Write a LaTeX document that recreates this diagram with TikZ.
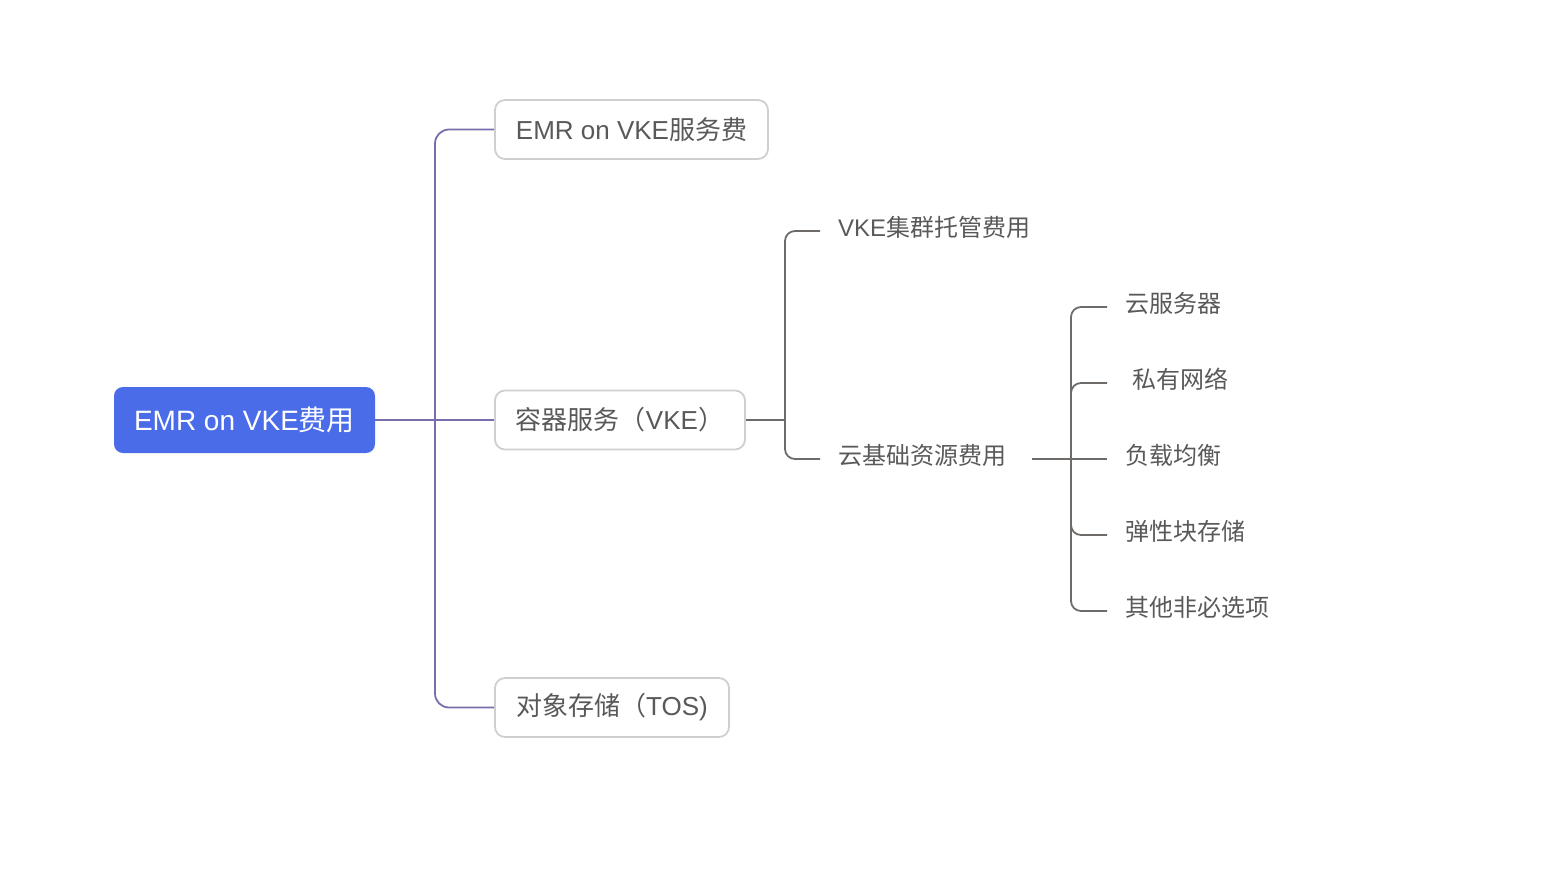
\documentclass[tikz,border=0pt]{standalone}
\usepackage{fontspec}
\setmainfont{Noto Sans CJK SC}
\newfontfamily\lfont{Liberation Sans}
\newcommand\LA[1]{{\lfont #1}}
\definecolor{rootblue}{HTML}{4A6CE8}
\definecolor{plinec}{HTML}{7A6DAB}
\definecolor{glinec}{HTML}{6F6B68}
\definecolor{tgrey}{HTML}{595959}
\definecolor{bgrey}{HTML}{CFCFCF}
\begin{document}
\begin{tikzpicture}[x=1pt,y=-1pt,
 rootbox/.style={fill=rootblue, rounded corners=9pt, minimum width=261pt, minimum height=66pt, text=white, font=\fontsize{28}{33}\selectfont, inner sep=0},
 catbox/.style={draw=bgrey, line width=1.8pt, fill=white, rounded corners=10pt, minimum height=59pt, text=tgrey, font=\fontsize{26}{31}\selectfont, inner sep=0},
 lab/.style={text=tgrey, font=\fontsize{24}{28}\selectfont, inner sep=0, anchor=west},
 pl/.style={draw=plinec, line width=1.8pt, rounded corners=14pt},
 gl/.style={draw=glinec, line width=1.8pt, rounded corners=10pt}]
\useasboundingbox (0,0) rectangle (1566,868);
\node[rootbox] (root) at (244.5,420) {\LA{EMR on VKE}费用};
\node[catbox, minimum width=273pt] (b1) at (631.5,129.5) {\LA{EMR on VKE}服务费};
\node[catbox, minimum width=250pt] (b2) at (620,420) {容器服务（\LA{VKE}）};
\node[catbox, minimum width=234pt] (b3) at (612,707.5) {对象存储（\LA{TOS)}};
\node[lab] (l1) at (838,227) {\LA{VKE}集群托管费用};
\node[lab] (l2) at (838,455) {云基础资源费用};
\node[lab] (m1) at (1125,303) {云服务器};
\node[lab] (m2) at (1132,379) {私有网络};
\node[lab] (m3) at (1125,455) {负载均衡};
\node[lab] (m4) at (1125,531) {弹性块存储};
\node[lab] (m5) at (1125,607) {其他非必选项};
\coordinate (j1) at (435,420);
\coordinate (j2) at (785,420);
\coordinate (k) at (1032,459);
\coordinate (j3) at (1071,459);
% purple connectors
\draw[draw=plinec, line width=1.8pt] (root.east) -- (b2.west);
\draw[pl] (j1) |- (b1.west);
\draw[pl] (j1) |- (b3.west);
% grey connectors
\draw[draw=glinec, line width=1.8pt] (b2.east) -- (j2);
\draw[gl] (j2) |- ([xshift=-18pt,yshift=-4pt]l1.west);
\draw[gl] (j2) |- ([xshift=-18pt,yshift=-4pt]l2.west);
\draw[draw=glinec, line width=1.8pt] (k) -- ([xshift=-18pt,yshift=-4pt]m3.west);
\draw[gl] (j3) |- ([xshift=-18pt,yshift=-4pt]m1.west);
\draw[gl] (j3) |- ([xshift=-25pt,yshift=-4pt]m2.west);
\draw[gl] (j3) |- ([xshift=-18pt,yshift=-4pt]m4.west);
\draw[gl] (j3) |- ([xshift=-18pt,yshift=-4pt]m5.west);
\end{tikzpicture}
\end{document}
